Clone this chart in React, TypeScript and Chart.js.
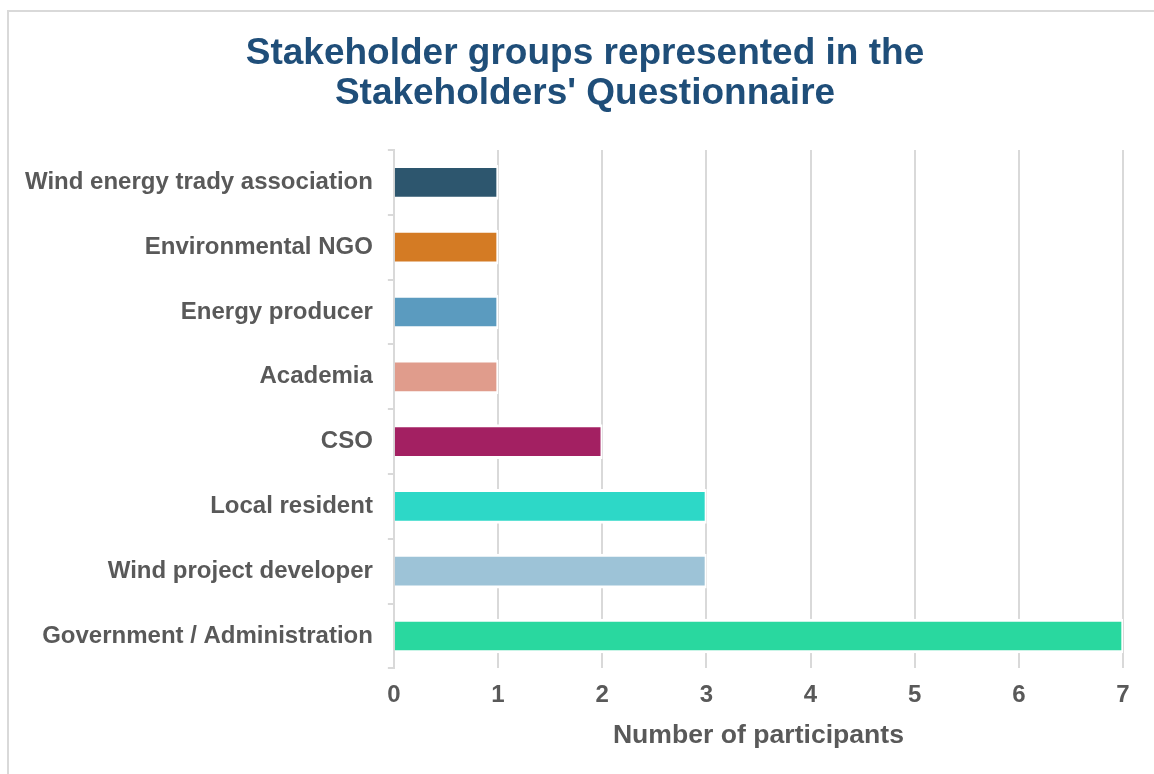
import React, { useEffect, useRef } from "react";
import { Chart, registerables } from "chart.js";

Chart.register(...registerables);

const categories = [
  "Wind energy trady association",
  "Environmental NGO",
  "Energy producer",
  "Academia",
  "CSO",
  "Local resident",
  "Wind project developer",
  "Government / Administration",
];

const participants = [1, 1, 1, 1, 2, 3, 3, 7];

const barColors = [
  "#2D566E",
  "#D47B24",
  "#5B9BBF",
  "#E09C8C",
  "#A32062",
  "#2DD8C7",
  "#9DC3D7",
  "#29D89F",
];

const titleLines = ["Stakeholder groups represented in the", "Stakeholders' Questionnaire"];
const xAxisTitle = "Number of participants";

const FONT = "'Liberation Sans', Arial, sans-serif";

const centeredTitle = {
  id: "centeredTitle",
  afterDraw(chart: any) {
    const ctx = chart.ctx;
    ctx.save();
    ctx.fillStyle = "#1F4E79";
    ctx.font = `bold 37px ${FONT}`;
    ctx.textAlign = "center";
    ctx.textBaseline = "middle";
    const cx = chart.width / 2;
    titleLines.forEach((line, i) => {
      ctx.fillText(line, cx, 42 + i * 40);
    });
    ctx.restore();
  },
};

export default function App() {
  const canvasRef = useRef<HTMLCanvasElement | null>(null);

  useEffect(() => {
    const canvas = canvasRef.current;
    if (!canvas) return;
    const chart = new Chart(canvas, {
      type: "bar",
      data: {
        labels: categories,
        datasets: [
          {
            data: participants,
            backgroundColor: barColors,
            borderColor: "#ffffff",
            borderWidth: { top: 3, bottom: 3, right: 2, left: 0 },
            borderSkipped: "start",
            barThickness: 34,
          },
        ],
      },
      plugins: [centeredTitle],
      options: {
        indexAxis: "y",
        animation: false,
        responsive: false,
        layout: { padding: { left: 1, right: 38, top: 138, bottom: 25 } },
        plugins: {
          legend: { display: false },
          tooltip: { enabled: false },
          title: { display: false },
        },
        scales: {
          x: {
            min: 0,
            max: 7,
            ticks: {
              stepSize: 1,
              color: "#595959",
              padding: 15,
              font: { family: FONT, size: 24, weight: "bold", lineHeight: 1.0 },
            },
            grid: { color: "#d9d9d9", lineWidth: 2, drawTicks: false },
            border: { display: false },
            title: {
              display: true,
              text: xAxisTitle,
              color: "#595959",
              font: { family: FONT, size: 26.6, weight: "bold", lineHeight: 1.0 },
              padding: { top: 0, bottom: 0 },
            },
          },
          y: {
            ticks: {
              color: "#595959",
              padding: 15,
              font: { family: FONT, size: 24, weight: "bold" },
            },
            grid: {
              color: "#d9d9d9",
              lineWidth: 2,
              drawOnChartArea: false,
              drawTicks: true,
              tickLength: 6,
              offset: true,
            },
            border: { display: true, color: "#d9d9d9", width: 2 },
          },
        },
      },
    });
    return () => chart.destroy();
  }, []);

  return (
    <div
      style={{
        position: "fixed",
        left: 0,
        top: 0,
        width: 1154,
        height: 774,
        overflow: "hidden",
        background: "#ffffff",
      }}
    >
      <div
        style={{
          position: "absolute",
          left: 7,
          top: 10,
          width: 1160,
          height: 780,
          borderLeft: "2px solid #d9d9d9",
          borderTop: "2px solid #d9d9d9",
        }}
      >
        <canvas ref={canvasRef} width={1152} height={762} style={{ display: "block" }} />
      </div>
    </div>
  );
}
